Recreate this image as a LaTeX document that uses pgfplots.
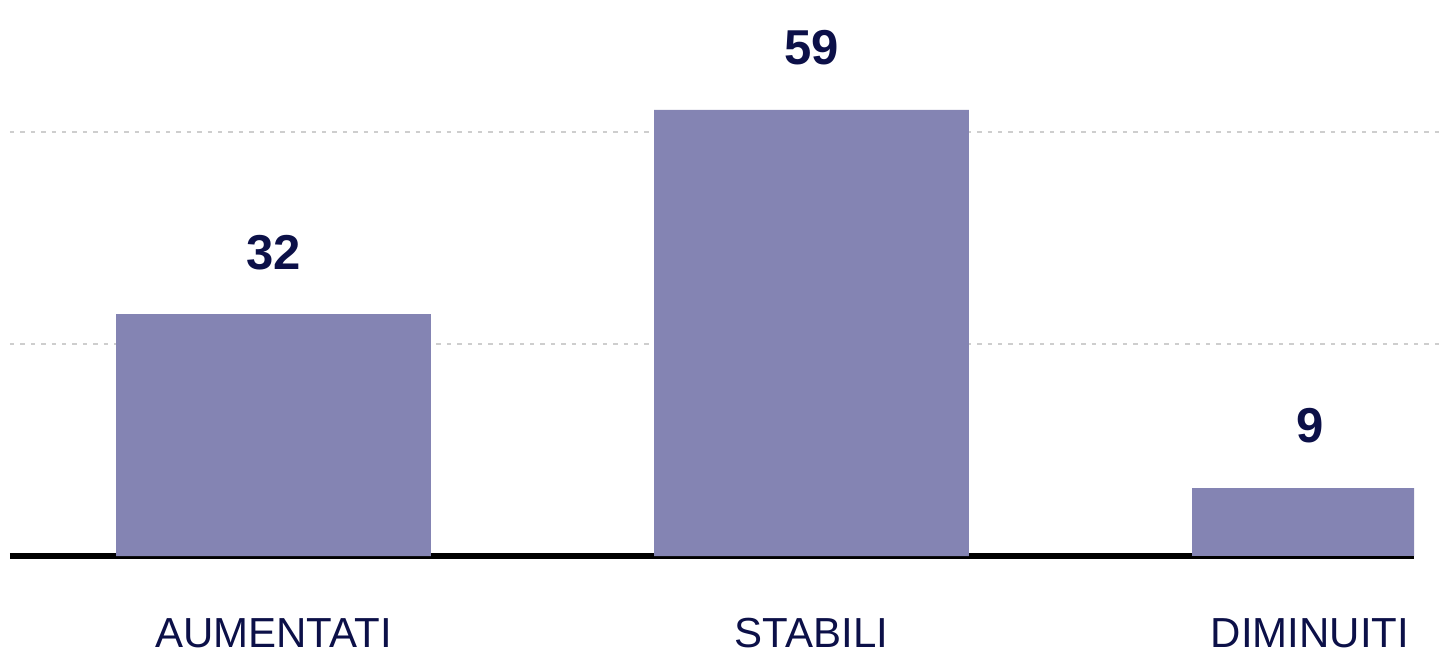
\documentclass[border=0pt]{standalone}
\usepackage{pgfplots}
\pgfplotsset{compat=1.18}
\usepackage{fontspec}
\setmainfont{Liberation Sans}

\definecolor{barcol}{RGB}{132,132,179}
\definecolor{navy}{RGB}{12,16,72}
\definecolor{gridcol}{RGB}{206,206,206}

\begin{document}
\begin{tikzpicture}
\begin{axis}[
    scale only axis,
    width=702bp, height=278bp,
    xmin=-0.4898, xmax=2.1199,
    ymin=0, ymax=73.55,
    axis x line*=bottom,
    axis y line*=left,
    x axis line style={-, line width=3bp, black},
    y axis line style={draw=none},
    major tick length=0pt,
    xtick={0,1,1.9266},
    xticklabels={AUMENTATI,STABILI,DIMINUITI},
    xticklabel style={font=\fontsize{21bp}{21bp}\selectfont, text=navy, anchor=base, yshift=-45.5bp},
    ytick={28.05,56.1},
    yticklabels={},
    ymajorgrids,
    grid style={gridcol, line width=1bp, dash pattern=on 2.2bp off 3bp},
    /pgf/number format/assume math mode=true,
]
% valori (percentuali)
\addplot[ybar, bar width=0.585, bar shift=0pt, fill=barcol, draw=none,
    nodes near coords,
    nodes near coords style={font=\fontsize{24.5bp}{24.5bp}\selectfont\bfseries, text=navy, anchor=base, yshift=22.5bp}]
    coordinates {(0,32) (1,59)};
\addplot[ybar, bar width=0.585, bar shift=0pt, fill=barcol, draw=none,
    nodes near coords,
    nodes near coords style={font=\fontsize{24.5bp}{24.5bp}\selectfont\bfseries, text=navy, anchor=base, yshift=22.5bp, xshift=-19.75bp}]
    coordinates {(2,9)};

\coordinate (BL) at (rel axis cs:0,0);
\coordinate (TR) at (rel axis cs:1,1);
\coordinate (g1) at (axis cs:2.1199,28.05);
\coordinate (g2) at (axis cs:2.1199,56.1);
\end{axis}
\draw[gridcol, line width=1bp, dash pattern=on 2.2bp off 3bp] (g1) -- ++(13bp,0);
\draw[gridcol, line width=1bp, dash pattern=on 2.2bp off 3bp] (g2) -- ++(13bp,0);
\pgfresetboundingbox
\useasboundingbox ([shift={(-5bp,-48bp)}]BL) rectangle ([shift={(14bp,0bp)}]TR);
\end{tikzpicture}
\end{document}
